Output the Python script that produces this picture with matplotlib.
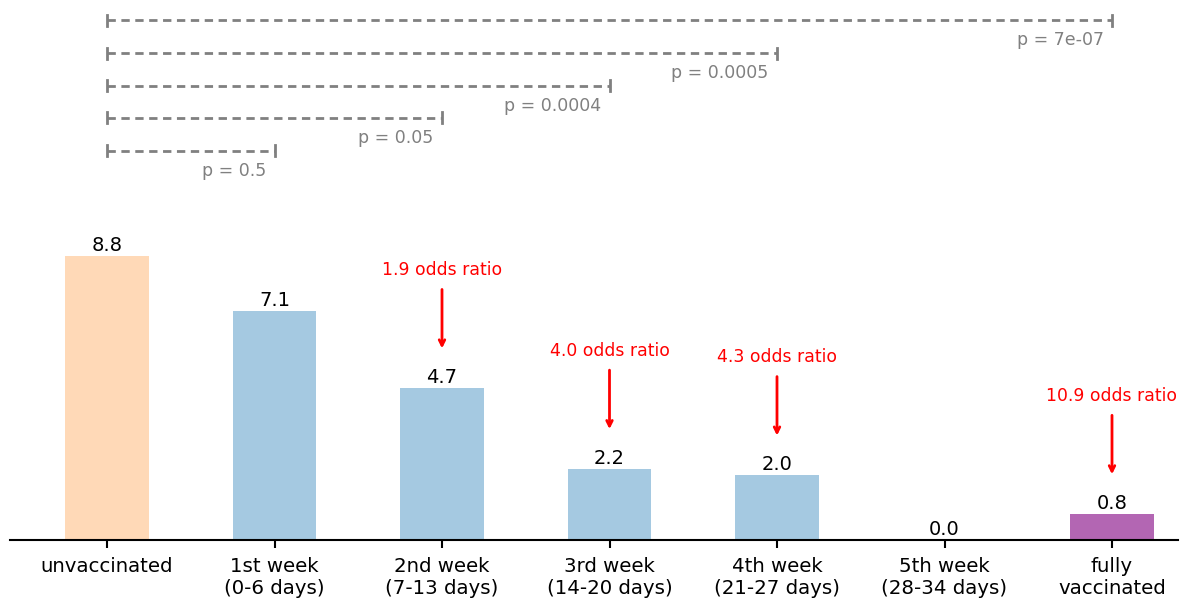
import matplotlib
matplotlib.use("Agg")
import matplotlib.pyplot as plt

plt.rcParams["font.family"] = ["DejaVu Sans"]

categories = ["unvaccinated", "1st week\n(0-6 days)", "2nd week\n(7-13 days)",
              "3rd week\n(14-20 days)", "4th week\n(21-27 days)",
              "5th week\n(28-34 days)", "fully\nvaccinated"]
values = [8.8, 7.1, 4.7, 2.2, 2.0, 0.0, 0.8]
bar_colors = ["#FFD9B7", "#A5C9E1", "#A5C9E1", "#A5C9E1", "#A5C9E1", "#A5C9E1", "#B366B3"]

# comparisons (index vs unvaccinated) with p-values
bracket_ends = [1, 2, 3, 4, 6]
p_labels = ["p = 0.5", "p = 0.05", "p = 0.0004", "p = 0.0005", "p = 7e-07"]

# odds ratio annotations
odds_idx = [2, 3, 4, 6]
odds_labels = ["1.9 odds ratio", "4.0 odds ratio", "4.3 odds ratio", "10.9 odds ratio"]

W, H = 1180, 599
fig = plt.figure(figsize=(W / 100, H / 100), dpi=100)
ax = fig.add_axes([10 / W, (H - 540) / H, (1178 - 10) / W, 540 / H])

x = list(range(len(categories)))
ax.bar(x, values, width=0.5, color=bar_colors)
for xi, v in zip(x, values):
    ax.text(xi, v + 0.03, f"{v:.1f}", ha="center", va="bottom", fontsize=14)

ppu = 167.5  # px per x unit
ax.set_xlim(-97 / ppu, 6 + 66 / ppu)
ax.set_ylim(0, 540 / 32.27)

# brackets
levels = [12.06, 13.08, 14.07, 15.09, 16.11]
for end, lab, lv in zip(bracket_ends, p_labels, levels):
    ax.plot([0, end], [lv, lv], color="gray", ls="--", lw=2, dashes=(3, 2))
    ax.plot([0, 0], [lv - 0.17, lv + 0.17], color="gray", lw=2)
    ax.plot([end, end], [lv - 0.17, lv + 0.17], color="gray", lw=2)
    ax.text(end - 0.05, lv - 0.34, lab, ha="right", va="top", color="gray", fontsize=12.5)

for idx, lab in zip(odds_idx, odds_labels):
    v = values[idx]
    ax.annotate("", xy=(idx, v + 1.15), xytext=(idx, v + 3.15),
                arrowprops=dict(arrowstyle="->", color="red", lw=2))
    ax.text(idx, v + 3.67, lab, ha="center", va="center", color="red", fontsize=12.4)

ax.set_xticks(x)
ax.set_xticklabels(categories, fontsize=14.2)
ax.set_yticks([])
for s in ["top", "right", "left"]:
    ax.spines[s].set_visible(False)
ax.spines["bottom"].set_linewidth(1.5)
ax.tick_params(axis="x", length=6, width=1.5, pad=6.5)

fig.savefig("out.png", dpi=100)
